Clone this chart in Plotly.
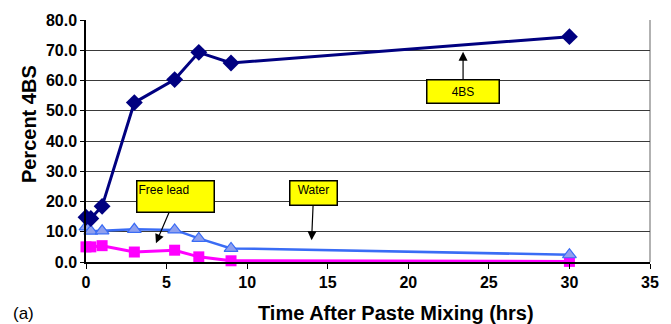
import plotly.graph_objects as go

time_hrs = [0.0, 0.3, 1.0, 3.0, 5.5, 7.0, 9.0, 30.0]
pct_4bs = [14.8, 14.4, 18.4, 52.7, 60.3, 69.3, 65.8, 74.5]
pct_water = [11.6, 10.2, 10.3, 10.8, 10.6, 7.8, 4.5, 2.4]
pct_free_lead = [5.0, 5.0, 5.4, 3.3, 3.9, 1.7, 0.4, 0.2]

x_ticks = [0, 5, 10, 15, 20, 25, 30, 35]
y_ticks = [0, 10, 20, 30, 40, 50, 60, 70, 80]

FONT = "Liberation Sans, Arial"

fig = go.Figure()
fig.add_trace(go.Scatter(
    x=time_hrs, y=pct_free_lead, mode="lines+markers", name="Free lead",
    line=dict(color="#FF00FF", width=3),
    marker=dict(symbol="square", size=11, color="#FF00FF"),
    cliponaxis=False))
fig.add_trace(go.Scatter(
    x=time_hrs, y=pct_water, mode="lines+markers", name="Water",
    line=dict(color="#3A6CF5", width=2.5),
    marker=dict(symbol="triangle-up", size=12, color="#8FA0EE",
                line=dict(color="#3A6CF5", width=1.2)),
    cliponaxis=False))
fig.add_trace(go.Scatter(
    x=time_hrs, y=pct_4bs, mode="lines+markers", name="4BS",
    line=dict(color="#000080", width=3),
    marker=dict(symbol="diamond", size=13, color="#000080"),
    cliponaxis=False))

fig.update_layout(
    width=671, height=324,
    margin=dict(l=86, r=12, t=18, b=62),
    paper_bgcolor="white", plot_bgcolor="white",
    showlegend=False,
    font=dict(family=FONT, color="black"),
)
fig.update_xaxes(
    range=[0, 35], tickvals=x_ticks, ticktext=[str(v) for v in x_ticks],
    showgrid=False, zeroline=False,
    showline=True, linecolor="black", linewidth=1.5,
    ticks="outside", ticklen=5, tickcolor="black",
    tickfont=dict(size=16, family=FONT, weight="bold"),
)
fig.update_yaxes(
    range=[0, 80], tickvals=y_ticks, ticktext=[f"{v:.1f}" for v in y_ticks],
    showgrid=True, gridcolor="#3a3a3a", gridwidth=1.2, zeroline=False,
    showline=True, linecolor="black", linewidth=1.5,
    ticks="outside", ticklen=4, tickcolor="black",
    tickfont=dict(size=16, family=FONT, weight="bold"),
)

# right border of the plot frame
fig.add_shape(type="line", xref="paper", yref="paper", x0=1, x1=1, y0=0, y1=1,
              line=dict(color="#999999", width=1.5), layer="below")

# Axis titles
fig.add_annotation(text="<b>Percent 4BS</b>", xref="paper", yref="paper",
                   x=-0.101, y=0.57, xanchor="center", yanchor="middle",
                   textangle=-90, showarrow=False,
                   font=dict(size=20, family=FONT))
fig.add_annotation(text="<b>Time After Paste Mixing (hrs)</b>", xref="paper", yref="paper",
                   x=0.55, y=-0.21, xanchor="center", yanchor="middle",
                   showarrow=False, font=dict(size=20, family=FONT))
fig.add_annotation(text="(a)", xref="paper", yref="paper",
                   x=-0.1326, y=-0.212, xanchor="left", yanchor="middle",
                   showarrow=False, font=dict(size=17, family=FONT))

# Callout boxes
box = dict(bgcolor="#FFFF00", bordercolor="black", borderwidth=1.5, borderpad=1,
           arrowhead=2, arrowsize=1.5, arrowwidth=1.2, arrowcolor="black",
           font=dict(size=12, family=FONT, color="black"))
fig.add_annotation(text="Free lead", x=4.34, y=6.2, ax=20, ay=-47,
                   width=74, height=28, align="left", valign="top", **box)
fig.add_annotation(text="Water", x=14.0, y=7.2, ax=2, ay=-47,
                   width=44, height=21, align="center", valign="top", **box)
fig.add_annotation(text="4BS", x=23.4, y=69.5, ax=0, ay=40,
                   width=69, height=20, align="center", valign="middle", **box)

fig.write_html("out.html", config={"displayModeBar": False},
               post_script="document.body.style.margin='0';")
